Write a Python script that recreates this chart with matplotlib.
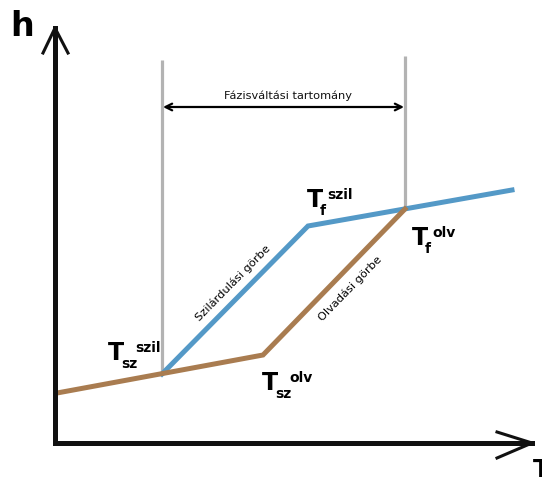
import matplotlib
matplotlib.use("Agg")
import matplotlib.pyplot as plt

# Conceptual data (T, h) in arbitrary units
melt_T = [2, 208, 350]        # Olvadási görbe (brown)
melt_h = [50, 88, 234]
solid_T = [107, 253, 457]     # Szilárdulási görbe (blue)
solid_h = [69, 217, 253]
range_T = [107, 350]          # Fázisváltási tartomány bounds
range_top = [383, 387]
arrow_h = 336
axis_T_max = 477
axis_h_max = 415

BLUE = "#5499C7"
BROWN = "#A97C50"
GRAY = "#B3B3B3"

plt.rcParams['font.family'] = ['DejaVu Sans']

fig = plt.figure(figsize=(5.42, 4.86), dpi=100)
ax = fig.add_axes([0, 0, 1, 1])
ax.set_xlim(-55, 487)
ax.set_ylim(-43, 443)
ax.axis("off")

# gray vertical lines
ax.plot([range_T[0], range_T[0]], [solid_h[0], range_top[0]], color=GRAY, lw=2.3, solid_capstyle="butt", zorder=1)
ax.plot([range_T[1], range_T[1]], [melt_h[2], range_top[1]], color=GRAY, lw=2.3, solid_capstyle="butt", zorder=1)

# double arrow
ax.annotate("", xy=(range_T[0] + 1, arrow_h), xytext=(range_T[1] - 1, arrow_h),
            arrowprops=dict(arrowstyle="<->", color="black", lw=1.6, mutation_scale=12,
                            shrinkA=0, shrinkB=0))
ax.text((range_T[0] + range_T[1]) / 2 + 5, arrow_h + 6, "Fázisváltási tartomány",
        ha="center", va="bottom", fontsize=8.2, fontweight="medium", color="#111111")

# curves
ax.plot(melt_T, melt_h, color=BROWN, lw=3.6, solid_joinstyle="miter", zorder=3)
ax.plot(solid_T, solid_h, color=BLUE, lw=3.6, solid_joinstyle="miter", zorder=2)

# axes with open arrowheads
ax.plot([0, 0], [0, axis_h_max], color="#111111", lw=3.6, solid_capstyle="projecting", zorder=4)
ax.plot([0, axis_T_max], [0, 0], color="#111111", lw=3.6, solid_capstyle="projecting", zorder=4)
ax.plot([-12, 0, 13], [axis_h_max - 25, axis_h_max, axis_h_max - 25], color="#111111", lw=2.2, zorder=4)
ax.plot([axis_T_max - 35, axis_T_max, axis_T_max - 35], [11, 0, -15], color="#111111", lw=2.2, zorder=4)

ax.text(-33, 416, "h", ha="center", va="center", fontsize=24, fontweight="bold")
ax.text(axis_T_max + 1, -15, "T", ha="left", va="top", fontsize=18, fontweight="bold")

# rotated curve labels
ax.text(178, 160, "Szilárdulási görbe", rotation=45.4, rotation_mode="anchor",
        ha="center", va="center", fontsize=8.2, transform_rotates_text=True)
ax.text(295, 154, "Olvadási görbe", rotation=45.8, rotation_mode="anchor",
        ha="center", va="center", fontsize=8.2, transform_rotates_text=True)

def tlabel(x, y, sub, sup):
    ax.text(x, y, "T", ha="left", va="baseline", fontsize=17, fontweight="bold")
    ax.text(x + 13, y - 8, sub, ha="left", va="baseline", fontsize=10, fontweight="bold")
    ax.text(x + 14 + 6.5 * len(sub), y + 8, sup, ha="left", va="baseline", fontsize=10, fontweight="bold")

tlabel(53, 83, "sz", "szil")
tlabel(207, 53, "sz", "olv")
tlabel(252, 236, "f", "szil")
tlabel(357, 198, "f", "olv")

fig.savefig("out.png", dpi=100)
